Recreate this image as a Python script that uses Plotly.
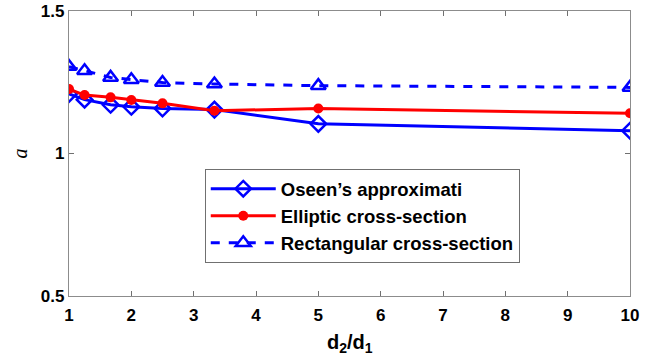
import plotly.graph_objects as go

x_vals = [1, 1.25, 1.667, 2, 2.5, 3.333, 5, 10]
oseen = [1.209, 1.189, 1.171, 1.164, 1.158, 1.154, 1.104, 1.080]
elliptic = [1.226, 1.205, 1.197, 1.188, 1.176, 1.150, 1.158, 1.141]
rect = [1.305, 1.290, 1.267, 1.259, 1.249, 1.244, 1.238, 1.232]
x_ticks = [1, 2, 3, 4, 5, 6, 7, 8, 9, 10]
y_ticks = [0.5, 1, 1.5]
y_ticktext = ["0.5", "1", "1.5"]

blue = "#0000ff"
red = "#ff0000"
sans = "Liberation Sans, Arial, Helvetica, sans-serif"

fig = go.Figure()
fig.add_trace(go.Scatter(
    x=x_vals, y=oseen, mode="lines+markers", name="Oseen\u2019s approximati",
    legendgroup="a",
    line=dict(color=blue, width=3),
    marker=dict(symbol="diamond-open", size=12, color=blue, line=dict(width=2.5, color=blue)),
))
fig.add_trace(go.Scatter(
    x=x_vals, y=elliptic, mode="lines+markers", name="Elliptic cross-section",
    legendgroup="b",
    line=dict(color=red, width=3),
    marker=dict(symbol="circle", size=10, color=red),
))
fig.add_trace(go.Scatter(
    x=x_vals, y=rect, mode="lines+markers", name="Rectangular cross-section",
    legendgroup="c",
    line=dict(color=blue, width=3, dash="dash"),
    marker=dict(symbol="triangle-up-open", size=13, color=blue, line=dict(width=2.5, color=blue)),
))

axis_common = dict(
    showline=True, linecolor="#8c8c8c", linewidth=1.2, mirror="ticks",
    ticks="inside", ticklen=5, tickcolor="#707070", tickwidth=1,
    showgrid=False, zeroline=False, automargin=False,
    ticklabeloverflow="allow",
    tickfont=dict(family=sans, size=17, color="black", weight="bold"),
)

fig.update_layout(
    template="none",
    width=655, height=361,
    margin=dict(l=69, r=25, t=11, b=65, pad=0),
    paper_bgcolor="white", plot_bgcolor="white",
    xaxis=dict(range=[1, 10], tickvals=x_ticks, ticktext=[str(v) for v in x_ticks],
               ticklabelstandoff=3, **axis_common),
    yaxis=dict(range=[0.5, 1.5], tickvals=y_ticks, ticktext=y_ticktext,
               **axis_common),
    legend=dict(
        x=0.242, y=0.445, xanchor="left", yanchor="top",
        bgcolor="white", bordercolor="#707070", borderwidth=1,
        font=dict(family=sans, size=18.5, color="black", weight="bold"),
        itemwidth=65, tracegroupgap=0, traceorder="grouped",
    ),
    showlegend=True,
    annotations=[
        dict(text="d<sub>2</sub>/d<sub>1</sub>", xref="paper", yref="paper",
             x=0.5, y=-0.115, xanchor="center", yanchor="top", showarrow=False,
             font=dict(family=sans, size=20, color="black", weight="bold")),
        dict(text="<i>a</i>", xref="paper", yref="paper",
             x=-0.089, y=0.5, xanchor="center", yanchor="middle", showarrow=False,
             textangle=-90,
             font=dict(family="Liberation Serif, Times New Roman, serif", size=20, color="black")),
    ],
)

fig.write_html(
    "out.html",
    config={"displayModeBar": False},
    post_script="document.body.style.margin='0';document.body.style.overflow='hidden';",
)
